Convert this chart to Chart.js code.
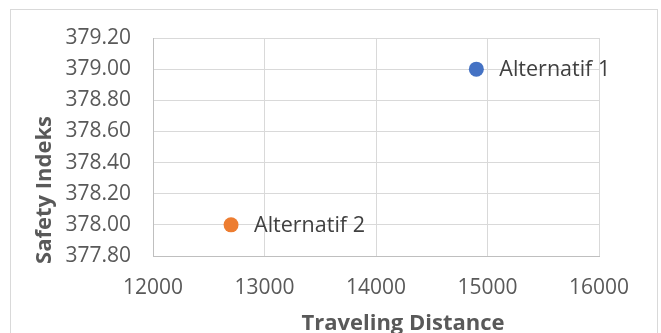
<!DOCTYPE html>
<html>
<head>
<meta charset="utf-8">
<script src="https://cdn.jsdelivr.net/npm/chart.js@4"></script>
<style>
    html, body { margin: 0; padding: 0; background: #ffffff; }
    #wrap { position: relative; width: 661px; height: 333px; overflow: hidden; }
    #frame { position: absolute; left: 10px; top: 9px; width: 646px; height: 340px; border: 1px solid #d9d9d9; }
    #chart { position: absolute; left: 0; top: 0; }
</style>
</head>
<body>
<div id="wrap">
    <div id="frame"></div>
    <canvas id="chart" width="661" height="333"></canvas>
</div>
<script>
// Data
const alternatives = ["Alternatif 1", "Alternatif 2"];
const travelingDistance = [14900, 12700];
const safetyIndeks = [379.00, 378.00];

// Axis ranges
const xMin = 12000, xMax = 16000, xStep = 1000;
const yMin = 377.8, yMax = 379.2, yStep = 0.2;

const xTitle = "Traveling Distance";
const yTitle = "Safety Indeks";

const pointColors = ["#4472C4", "#ED7D31"];
const fontFamily = "'Open Sans', 'Noto Sans', sans-serif";

// Draws the point labels and the axis titles
const labelPlugin = {
    id: "labelPlugin",
    afterDatasetsDraw(chart) {
        const ctx = chart.ctx;
        const area = chart.chartArea;
        ctx.save();
        ctx.fillStyle = "#404040";
        ctx.font = "21.5px " + fontFamily;
        ctx.textAlign = "left";
        ctx.textBaseline = "middle";
        chart.data.datasets.forEach((ds, i) => {
            const el = chart.getDatasetMeta(i).data[0];
            ctx.fillText(ds.label, el.x + 23, el.y + 1);
        });

        // axis titles
        ctx.fillStyle = "#595959";
        ctx.font = "bold 22px " + fontFamily;
        ctx.textAlign = "center";
        ctx.textBaseline = "alphabetic";
        ctx.fillText(xTitle, area.left + 250, 330);

        ctx.translate(51, area.top + 152);
        ctx.rotate(-Math.PI / 2);
        ctx.fillText(yTitle, 0, 0);
        ctx.restore();
    }
};

const datasets = alternatives.map((name, i) => ({
    label: name,
    data: [{ x: travelingDistance[i], y: safetyIndeks[i] }],
    backgroundColor: pointColors[i],
    borderColor: pointColors[i],
    pointRadius: 7.5,
    pointBorderWidth: 0
}));

new Chart(document.getElementById("chart"), {
    type: "scatter",
    data: { datasets: datasets },
    options: {
        responsive: false,
        animation: false,
        events: [],
        layout: { padding: { top: 38, right: 62, left: 0, bottom: 0 } },
        plugins: {
            legend: { display: false },
            tooltip: { enabled: false }
        },
        scales: {
            x: {
                type: "linear",
                min: xMin,
                max: xMax,
                afterFit: (scale) => { scale.height = 77; },
                ticks: {
                    stepSize: xStep,
                    padding: 19,
                    color: "#595959",
                    font: { family: fontFamily, size: 21 },
                    callback: (v) => String(v)
                },
                grid: { color: "#d9d9d9", lineWidth: 1, drawTicks: false },
                border: { color: "#bfbfbf", width: 1 }
            },
            y: {
                type: "linear",
                min: yMin,
                max: yMax,
                afterFit: (scale) => { scale.width = 153; },
                ticks: {
                    stepSize: yStep,
                    padding: 22,
                    color: "#595959",
                    font: { family: fontFamily, size: 21 },
                    callback: (v) => Number(v).toFixed(2)
                },
                grid: { color: "#d9d9d9", lineWidth: 1, drawTicks: false },
                border: { color: "#bfbfbf", width: 1 }
            }
        }
    },
    plugins: [labelPlugin]
});
</script>
</body>
</html>
